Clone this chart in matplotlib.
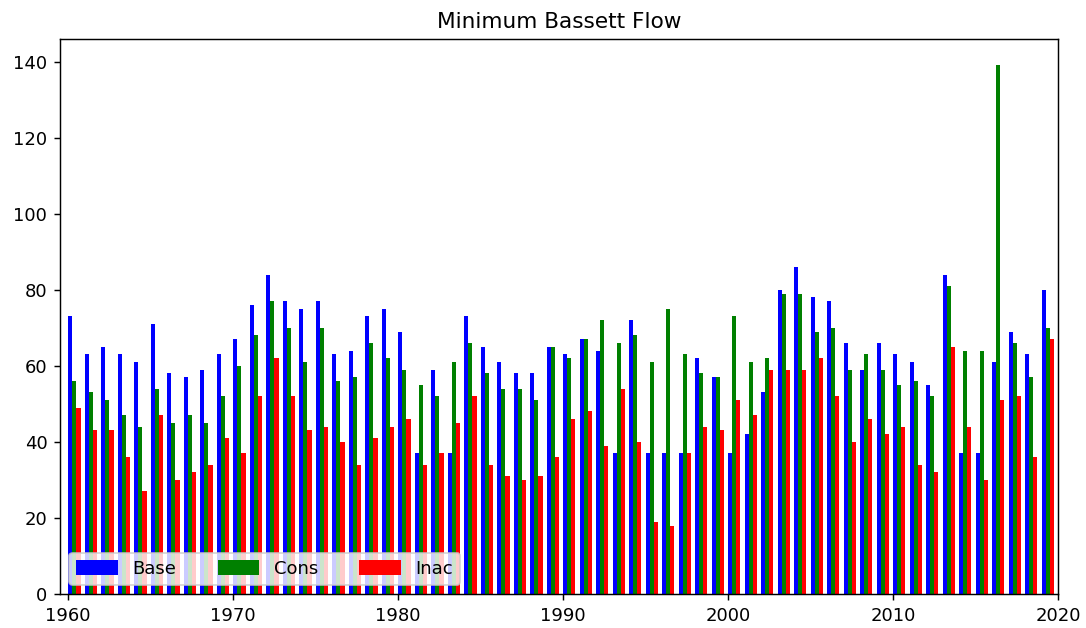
import matplotlib
matplotlib.use("Agg")
import matplotlib.pyplot as plt
import numpy as np

years = list(range(1960, 2020))

base = [73, 63, 65, 63, 61, 71, 58, 57, 59, 63,
        67, 76, 84, 77, 75, 77, 63, 64, 73, 75,
        69, 37, 59, 37, 73, 65, 61, 58, 58, 65,
        63, 67, 64, 37, 72, 37, 37, 37, 62, 57,
        37, 42, 53, 80, 86, 78, 77, 66, 59, 66,
        63, 61, 55, 84, 37, 37, 61, 69, 63, 80]

cons = [56, 53, 51, 47, 44, 54, 45, 47, 45, 52,
        60, 68, 77, 70, 61, 70, 56, 57, 66, 62,
        59, 55, 52, 61, 66, 58, 54, 54, 51, 65,
        62, 67, 72, 66, 68, 61, 75, 63, 58, 57,
        73, 61, 62, 79, 79, 69, 70, 59, 63, 59,
        55, 56, 52, 81, 64, 64, 139, 66, 57, 70]

inac = [49, 43, 43, 36, 27, 47, 30, 32, 34, 41,
        37, 52, 62, 52, 43, 44, 40, 34, 41, 44,
        46, 34, 37, 45, 52, 34, 31, 30, 31, 36,
        46, 48, 39, 54, 40, 19, 18, 37, 44, 43,
        51, 47, 59, 59, 59, 62, 52, 40, 46, 42,
        44, 34, 32, 65, 44, 30, 51, 52, 36, 67]

series_labels = ["Base", "Cons", "Inac"]
series_colors = ["blue", "green", "red"]

dpi = 130
fig = plt.figure(figsize=(1086 / dpi, 628 / dpi), dpi=dpi)
ax = fig.add_axes([60 / 1086, 34 / 628, 998 / 1086, 555 / 628])

x = np.array(years, dtype=float)
w = 0.25
for i, (vals, lab, col) in enumerate(zip([base, cons, inac], series_labels, series_colors)):
    ax.bar(x + i * w, vals, width=w, align="edge", color=col, label=lab)

ax.set_xlim(1959.5, 2020)
ax.set_title("Minimum Bassett Flow")
ax.legend(loc="lower left", ncol=3, handlelength=2.3, handleheight=0.9,
          columnspacing=2.3)

fig.savefig("out.png", dpi=dpi)
